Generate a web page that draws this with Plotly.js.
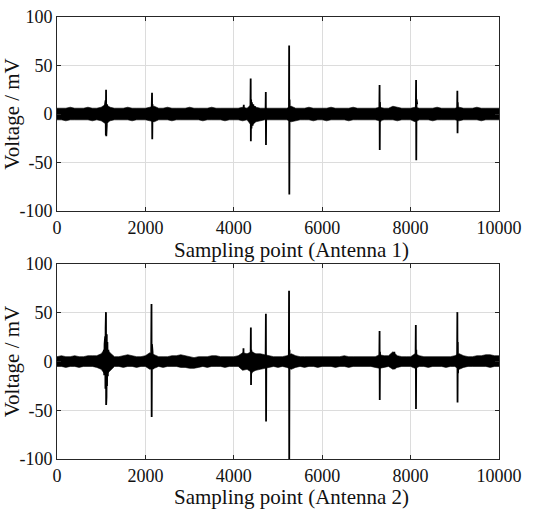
<!DOCTYPE html>
<html><head><meta charset="utf-8">
<script src="https://cdn.plot.ly/plotly-3.0.1.min.js"></script>
<style>html,body{margin:0;padding:0;background:#fff}</style>
</head><body><div id="chart" style="width:552px;height:510px"></div>
<script>
// ---- axis ticks / titles ----
const xTickVals = [0, 2000, 4000, 6000, 8000, 10000];
const xTickText = ['0', '2000', '4000', '6000', '8000', '10000'];
const yTickVals = [-100, -50, 0, 50, 100];
const yTickText = ['-100', '-50', '0', '50', '100'];
const xTitles = ['Sampling point (Antenna 1)', 'Sampling point (Antenna 2)'];
const yTitle = 'Voltage / mV';

// ---- noise envelope (one value per 100 samples, 0..10000) ----
const envStep = 100;
const a1Upper = [6,6,6,7,6,6,6,7,6,6, 7,10,7,6,6,6,7,6,6,6, 6,7,8,6,6,7,6,6,6,6, 7,6,6,6,6,7,6,6,6,6, 6,6,7,6,10,7,6,6,6,6, 6,6,6,8,6,6,6,7,6,6, 6,6,7,6,6,6,6,7,6,6, 6,6,6,7,6,6,8,7,6,6, 6,7,6,6,6,6,7,6,6,6, 6,7,6,6,6,7,6,6,6,6, 6];
const a1Lower = [-6,-6,-7,-6,-6,-6,-6,-6,-7,-6, -7,-10,-7,-6,-6,-6,-6,-7,-6,-6, -6,-7,-8,-6,-6,-6,-7,-6,-6,-6, -6,-6,-6,-7,-6,-6,-6,-6,-7,-6, -6,-6,-7,-6,-12,-8,-7,-6,-6,-6, -6,-6,-6,-8,-7,-6,-6,-6,-7,-6, -6,-7,-6,-6,-6,-6,-7,-6,-6,-6, -6,-6,-6,-7,-6,-6,-6,-7,-6,-6, -6,-8,-6,-6,-6,-7,-6,-6,-6,-6, -6,-7,-6,-6,-6,-6,-7,-6,-6,-6, -6];
const a2Upper = [5,6,5,5,6,5,5,6,6,6, 8,14,9,5,5,6,7,6,5,5, 6,9,7,5,5,5,6,6,7,6, 5,4,5,5,5,6,6,5,5,5, 5,6,9,8,10,8,8,7,6,5, 5,5,6,8,6,5,5,5,5,5, 5,5,5,5,5,6,5,5,5,5, 5,5,5,7,6,6,10,6,5,5, 5,8,6,5,5,5,5,5,5,5, 6,8,6,5,5,6,6,7,7,6, 6];
const a2Lower = [-5,-5,-6,-5,-5,-6,-5,-5,-5,-6, -8,-14,-9,-5,-5,-6,-5,-5,-6,-5, -5,-8,-7,-5,-6,-5,-5,-5,-6,-6, -7,-7,-6,-5,-6,-5,-5,-5,-6,-5, -5,-5,-9,-8,-11,-9,-8,-7,-6,-5, -6,-5,-6,-8,-6,-5,-6,-5,-5,-6, -5,-5,-5,-6,-5,-5,-6,-5,-5,-5, -5,-5,-6,-7,-6,-5,-8,-6,-5,-5, -5,-7,-5,-5,-6,-5,-5,-5,-6,-5, -5,-8,-6,-5,-5,-5,-5,-5,-6,-5, -5];

// ---- discharge pulses (sample, mV), null separates pulses ----
const a1PulseX = [1070,1080,1088,1094,1100,1105,1110,1115,1120,1126,1132,1140,1150,1160,null,
  2140,2150,2155,2162,2170,2185,null,
  4220,4226,4232,null,
  4375,4382,4386,4392,4400,4410,4425,4440,4460,4480,4500,null,
  4718,4724,4728,4734,null,
  5248,5252,5256,5262,5270,5280,null,
  7292,7298,7302,7308,7316,null,
  8118,8124,8128,8134,8142,8150,null,
  9052,9058,9062,9068,9076];
const a1PulseY = [6,-8,10,-12,14,-22,25,-23,14,-12,10,-9,7,-6,null,
  0,22,-26,10,-8,5,null,
  0,9.6,-4,null,
  0,36.5,-28,15,-15,12,-12,10,-9,8,-7,null,
  0,22.8,-32,6,null,
  0,70.5,-83,15,-8,8,null,
  0,30,-37,12,-8,null,
  0,35,-47.6,15,-8,10,null,
  0,24,-19.7,12,-6];
const a2PulseX = [1040,1050,1060,1068,1076,1084,1090,1096,1100,1104,1108,1112,1116,1120,1126,1132,1140,1150,1162,1176,1190,null,
  2130,2138,2142,2148,2154,2162,2172,null,
  4212,4219,4224,4230,null,
  4380,4386,4390,4396,4405,4420,4440,4470,4500,null,
  4720,4726,4730,4736,null,
  5245,5250,5254,5260,5268,5280,null,
  7292,7298,7302,7308,7316,null,
  7625,7632,7638,null,
  8112,8118,8122,8128,8136,null,
  9052,9058,9062,9068,9074,9082];
const a2PulseY = [8,-9,12,-14,18,-20,26,-28,34,-33,50.7,-44.6,35,-36,28,-25,20,-15,12,-9,7,null,
  0,59,-57,18,-28,10,-8,null,
  0,13.5,-8,3,null,
  0,35,-24,12,-12,10,-10,8,-7,null,
  0,49,-61.5,6,null,
  0,72.6,-102,12,-7,6,null,
  0,31.4,-39.5,10,-6,null,
  0,10,-8,null,
  0,37.5,-48.6,12,-6,null,
  0,50.7,-42,20,-12,8];

const traces = [];
function addPanel(up, lo, px, py, xa, ya) {
  const x = up.map((_, i) => i * envStep);
  traces.push({x: x, y: lo, xaxis: xa, yaxis: ya, mode: 'lines',
    line: {color: '#000', width: 0.6}, hoverinfo: 'skip', showlegend: false});
  traces.push({x: x, y: up, xaxis: xa, yaxis: ya, mode: 'lines', fill: 'tonexty',
    fillcolor: '#000', line: {color: '#000', width: 0.6}, hoverinfo: 'skip', showlegend: false});
  traces.push({x: px, y: py, xaxis: xa, yaxis: ya, mode: 'lines', connectgaps: false,
    line: {color: '#000', width: 1.8}, hoverinfo: 'skip', showlegend: false});
}
addPanel(a1Upper, a1Lower, a1PulseX, a1PulseY, 'x', 'y');
addPanel(a2Upper, a2Lower, a2PulseX, a2PulseY, 'x2', 'y2');

const fam = 'Liberation Serif, Times New Roman, serif';
const axBase = {
  showline: true, linecolor: '#262626', linewidth: 1, mirror: 'ticks',
  ticks: 'inside', ticklen: 4, tickcolor: '#262626', tickwidth: 1,
  showgrid: true, gridcolor: '#dcdcdc', gridwidth: 1, zeroline: false,
  tickfont: {family: fam, size: 18, color: '#111'}, automargin: false
};
function xAxis(anchor) {
  return Object.assign({}, axBase, {
    anchor: anchor, range: [0, 10000], tickmode: 'array', tickvals: xTickVals, ticktext: xTickText
  });
}
function yAxis(domain, anchor) {
  return Object.assign({}, axBase, {
    anchor: anchor, domain: domain, range: [-100, 100], tickmode: 'array', tickvals: yTickVals, ticktext: yTickText,
    title: {text: yTitle, font: {family: fam, size: 21, color: '#111'}, standoff: 6}
  });
}
const titleFont = {family: fam, size: 21, color: '#111'};
const layout = {
  width: 552, height: 510,
  margin: {l: 57, r: 53, t: 17, b: 51},
  paper_bgcolor: '#fff', plot_bgcolor: '#fff',
  showlegend: false,
  xaxis: xAxis('y'),
  yaxis: yAxis([0.561, 1], 'x'),
  xaxis2: xAxis('y2'),
  yaxis2: yAxis([0, 0.441], 'x2'),
  annotations: [
    {text: xTitles[0], xref: 'paper', yref: 'paper', x: 0.53, y: 0.473, xanchor: 'center', yanchor: 'middle', showarrow: false, font: titleFont},
    {text: xTitles[1], xref: 'paper', yref: 'paper', x: 0.53, y: -0.085, xanchor: 'center', yanchor: 'middle', showarrow: false, font: titleFont}
  ]
};
Plotly.newPlot('chart', traces, layout, {displayModeBar: false, staticPlot: true});
</script></body></html>
